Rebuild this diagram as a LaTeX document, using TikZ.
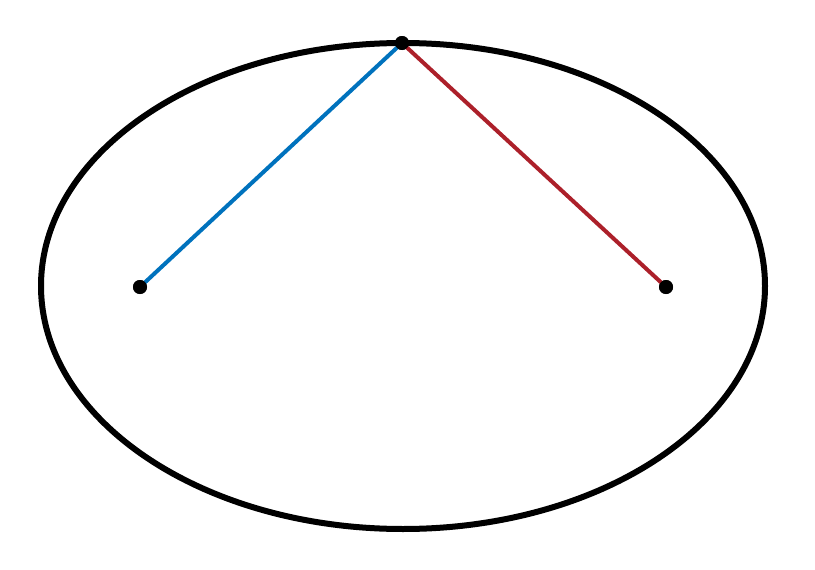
\documentclass[tikz,border=0pt]{standalone}
\definecolor{fblue}{RGB}{0,114,189}
\definecolor{fred}{RGB}{172,32,42}
\tikzset{
  dotpt/.style={circle,fill=black,inner sep=0pt,minimum size=14pt},
  ellipseline/.style={line width=6pt,draw=black},
  seg/.style={line width=4pt}
}
\begin{document}
\begin{tikzpicture}[x=1pt,y=-1pt]
\useasboundingbox (0,0) rectangle (815,570);
\draw[ellipseline] (403,286) ellipse [x radius=362, y radius=243];
\node[dotpt] (t) at (402,43) {};
\node[dotpt] (f1) at (140,287) {};
\node[dotpt] (f2) at (666,287) {};
\draw[seg,fblue] (f1.center) -- (t.center);
\draw[seg,fred] (f2.center) -- (t.center);
\node[dotpt] at (t) {};
\node[dotpt] at (f1) {};
\node[dotpt] at (f2) {};
\end{tikzpicture}
\end{document}
